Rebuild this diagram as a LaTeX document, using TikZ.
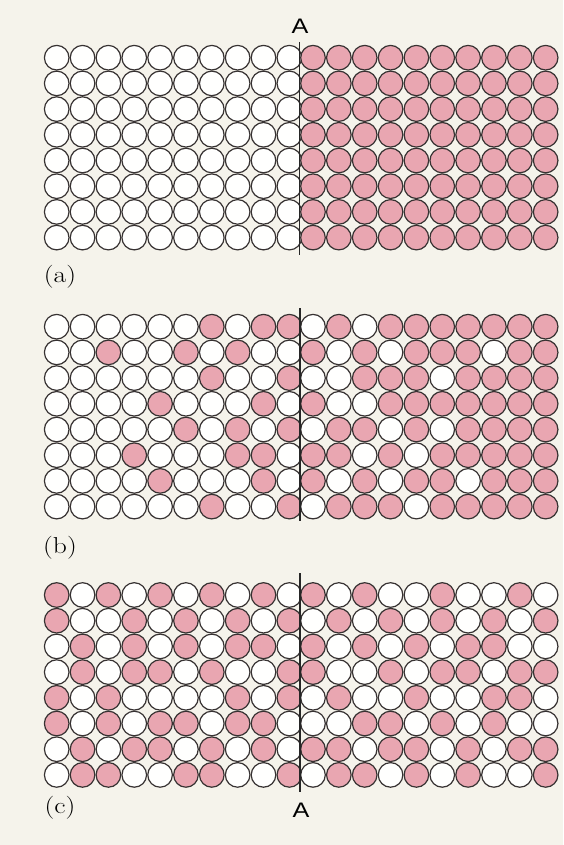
\documentclass[tikz,border=0pt]{standalone}
\usepackage{fontspec}
\newfontfamily\labsans{Liberation Sans}
\definecolor{bgc}{RGB}{245,243,235}
\definecolor{pinkc}{RGB}{233,166,177}
\definecolor{edgec}{RGB}{55,50,50}
\tikzset{
  ballbase/.style={draw=edgec, line width=1.2pt},
  c0/.style={ballbase, fill=white!97!bgc},
  c1/.style={ballbase, fill=pinkc},
  divider/.style={draw=black!85, line width=1.1pt},
  panellab/.style={font=\fontsize{23}{26}\selectfont, inner sep=0pt},
  alab/.style={font=\fontsize{21}{24}\selectfont\labsans, inner sep=0pt}
}
\newcommand\widetext[1]{\scalebox{1.2}[1]{#1}}
\newcommand\drawhalf[3]{% #1 = x of first column, #2 = y of first row, #3 = rows
  \foreach \prow [count=\j] in {#3} {
    \foreach \v [count=\i] in \prow {
      \draw[c\v] ({#1+25.85*(\i-1)}, {#2+25.7*(\j-1)}) circle[radius=12.3];
    }
  }
}
\begin{document}
\begin{tikzpicture}[x=1pt,y=-1pt]
\useasboundingbox (0,0) rectangle (563,845);
\fill[bgc] (0,0) rectangle (563,845);

% ---------- panel (a) ----------
\drawhalf{56.7}{57.7}{
 {0,0,0,0,0,0,0,0,0,0},{0,0,0,0,0,0,0,0,0,0},{0,0,0,0,0,0,0,0,0,0},{0,0,0,0,0,0,0,0,0,0},
 {0,0,0,0,0,0,0,0,0,0},{0,0,0,0,0,0,0,0,0,0},{0,0,0,0,0,0,0,0,0,0},{0,0,0,0,0,0,0,0,0,0}}
\drawhalf{313}{57.7}{
 {1,1,1,1,1,1,1,1,1,1},{1,1,1,1,1,1,1,1,1,1},{1,1,1,1,1,1,1,1,1,1},{1,1,1,1,1,1,1,1,1,1},
 {1,1,1,1,1,1,1,1,1,1},{1,1,1,1,1,1,1,1,1,1},{1,1,1,1,1,1,1,1,1,1},{1,1,1,1,1,1,1,1,1,1}}
\coordinate (da1) at (299.5,42);
\coordinate (da2) at (299.5,255);
\draw[divider] (da1) -- (da2);
\node[alab] (Atop) at (300,26) {\widetext{A}};
\node[panellab] (la) at (60,277) {\widetext{(a)}};

% ---------- panel (b) ----------
\drawhalf{56.7}{326.7}{
 {0,0,0,0,0,0,1,0,1,1},
 {0,0,1,0,0,1,0,1,0,0},
 {0,0,0,0,0,0,1,0,0,1},
 {0,0,0,0,1,0,0,0,1,0},
 {0,0,0,0,0,1,0,1,0,1},
 {0,0,0,1,0,0,0,1,1,0},
 {0,0,0,0,1,0,0,0,1,0},
 {0,0,0,0,0,0,1,0,0,1}}
\drawhalf{313}{326.7}{
 {0,1,0,1,1,1,1,1,1,1},
 {1,0,1,0,1,1,1,0,1,1},
 {0,0,1,1,1,0,1,1,1,1},
 {1,0,0,1,1,1,1,1,1,1},
 {0,1,1,0,1,0,1,1,1,1},
 {1,1,0,1,0,1,1,1,1,1},
 {1,0,1,0,1,1,0,1,1,1},
 {0,1,1,1,0,1,1,1,1,1}}
\coordinate (db1) at (300,308);
\coordinate (db2) at (300,521);
\draw[divider] (db1) -- (db2);
\node[panellab] (lb) at (60,548) {\widetext{(b)}};

% ---------- panel (c) ----------
\drawhalf{56.7}{595}{
 {1,0,1,0,1,0,1,0,1,0},
 {1,0,0,1,0,1,0,1,0,1},
 {0,1,0,1,0,1,0,1,1,0},
 {0,1,0,1,1,0,1,0,0,1},
 {1,0,1,0,0,0,0,1,0,1},
 {1,0,1,0,1,1,0,1,1,0},
 {0,1,0,1,1,0,1,0,1,0},
 {0,1,1,0,0,1,1,0,0,1}}
\drawhalf{313}{595}{
 {1,0,1,0,0,1,0,0,1,0},
 {0,1,0,1,0,1,0,1,0,1},
 {1,0,1,0,1,0,1,1,0,0},
 {1,0,0,1,0,1,1,0,1,1},
 {0,1,0,0,1,0,0,1,1,0},
 {0,0,1,1,0,1,0,1,0,0},
 {1,1,0,1,1,0,1,0,1,1},
 {0,1,1,0,1,0,1,0,0,1}}
\coordinate (dc1) at (300,573);
\coordinate (dc2) at (300,792);
\draw[divider] (dc1) -- (dc2);
\node[alab] (Abot) at (301,810) {\widetext{A}};
\node[panellab] (lc) at (60,808) {\widetext{(c)}};
\end{tikzpicture}
\end{document}
